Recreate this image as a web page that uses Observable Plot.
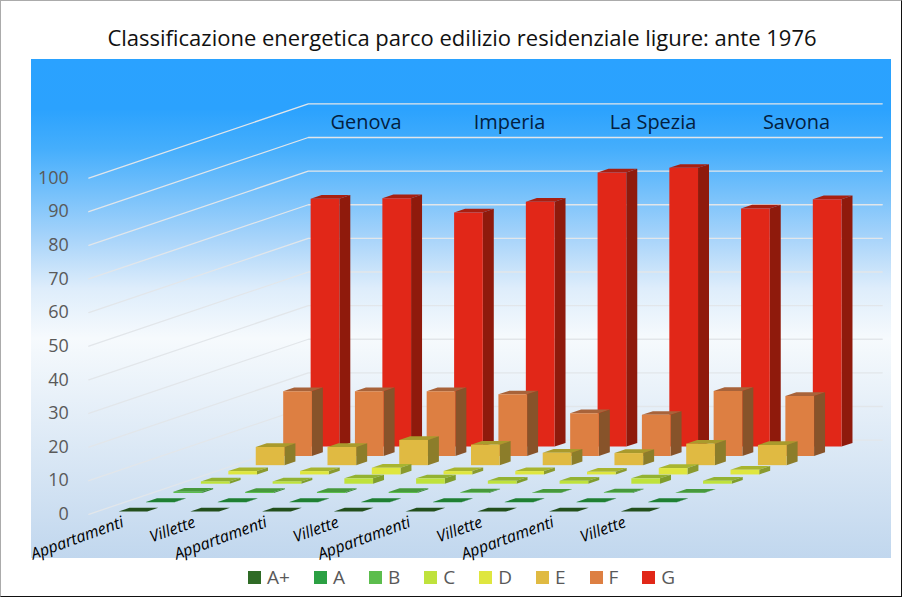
<!DOCTYPE html>
<html lang="it">
<head>
<meta charset="utf-8">
<script src="https://cdn.jsdelivr.net/npm/d3@7"></script>
<script src="https://cdn.jsdelivr.net/npm/@observablehq/plot@0.6"></script>
<style>
  html, body { margin: 0; padding: 0; background: #fff; }
  #frame { position: relative; width: 902px; height: 597px; box-sizing: border-box; overflow: hidden;
           border-top: 1px solid #ababab; border-left: 1px solid #ababab; border-right: 1px solid #111; border-bottom: 1px solid #111; background: #fff; }
  #panel { position: absolute; left: 30px; top: 58px; width: 860px; height: 499px;
           background: linear-gradient(180deg, #2aa2ff 0%, #2ba2fe 10%, #45aefc 18%, #a8d4fa 36%, #deedfb 46%, #f6fafd 56%, #c1d7ee 100%); }
  #title { position: absolute; left: 0; width: 922px; top: 21px; text-align: center; font: 22px "Open Sans", sans-serif; color: #111; white-space: nowrap; }
  #chart { position: absolute; left: -1px; top: -1px; }
  #chart svg { background: transparent; display: block; }
  #legend { position: absolute; left: 247px; top: 563px; }
  #legend .leg-swatches { display: flex; min-height: 0; margin: 0; font: 19px "Open Sans", sans-serif; color: #595959; }
  #legend .leg-swatch { margin-right: 24px; }
  #legend .leg-swatch > svg { margin-right: 6px; }
</style>
</head>
<body>
<div id="frame">
  <div id="panel"></div>
  <div id="chart"></div>
  <div id="title">Classificazione energetica parco edilizio residenziale ligure: ante 1976</div>
  <div id="legend"></div>
</div>
<script>
const provinces = ["Genova", "Imperia", "La Spezia", "Savona"];
const housing = ["Appartamenti", "Villette"];
const classes = ["A+", "A", "B", "C", "D", "E", "F", "G"];
const valuesAp = [0, 0.1, 0.4, 0.7, 1.0, 5.4, 19.2, 73.7];
const valuesAv = [0, 0.1, 0.3, 0.7, 1.0, 5.4, 19.2, 73.9];
const valuesBa = [0, 0.1, 0.3, 1.6, 2.0, 7.5, 19.2, 69.6];
const valuesBv = [0, 0.1, 0.3, 1.6, 1.0, 6.1, 18.3, 72.8];
const valuesCa = [0, 0.1, 0.2, 0.9, 1.0, 3.7, 12.7, 81.5];
const valuesCv = [0, 0.1, 0.1, 0.9, 0.8, 3.6, 12.2, 82.9];
const valuesDa = [0, 0.1, 0.2, 1.6, 1.9, 6.4, 19.3, 70.8];
const valuesDv = [0, 0.1, 0.1, 0.9, 1.4, 6.0, 17.8, 73.6];
const seriesByBar = [valuesAp, valuesAv, valuesBa, valuesBv, valuesCa, valuesCv, valuesDa, valuesDv];
const frontColors = ["#2f6b26", "#2ba043", "#5cbd4d", "#bfe23c", "#dfe63f", "#e0ba42", "#dd7f42", "#e12718"];
const sideColors  = ["#1c4017", "#1a6a2c", "#3b8a35", "#7f9d2c", "#8a9a2e", "#8c7d2a", "#87532a", "#8f1a0c"];
const topColors   = ["#234f1c", "#1f7f33", "#47993c", "#93b232", "#a8b52f", "#a99a2c", "#a8633a", "#a91f10"];
const yTicks = d3.range(0, 101, 10);

// Oblique projection, expressed in the units of the x scale (one bar slot) and y scale (one percentage point).
const pxPerSlot = 71.9, pxPerUnit = 3.37, originX = 88.5, originY = 515;
const W = 903, H = 597;
const depthX = 27.5 / pxPerSlot, depthY = 9.3 / pxPerUnit;
const gap = 0.3, barW = 0.4, barD = 0.4;
const slots = seriesByBar.length, depths = classes.length;
const project = (c, v, d) => ({x: c + d * depthX, y: v + d * depthY});

const faces = [];
for (let s = depths - 1; s >= 0; --s) {
  seriesByBar.forEach((vals, c) => {
    const v = vals[s], l = c + gap, r = l + barW, f = s + gap, b = f + barD;
    const poly = (name, color, pts) => pts.forEach(p => faces.push({id: `${c}-${s}-${name}`, color, ...project(...p)}));
    poly("top", topColors[s], [[l, v, f], [r, v, f], [r, v, b], [l, v, b]]);
    poly("side", sideColors[s], [[r, 0, f], [r, 0, b], [r, v, b], [r, v, f]]);
    poly("front", frontColors[s], [[l, 0, f], [r, 0, f], [r, v, f], [l, v, f]]);
  });
}

const grid = yTicks.flatMap(v => [
  {v, ...project(0, v, 0)},
  {v, ...project(0, v, depths)},
  {v, ...project(slots, v, depths)}
]);

const barLabels = seriesByBar.map((_, i) => ({i, label: housing[i % housing.length]}));
const groupLabels = provinces.map((name, i) => ({name, c: i * housing.length + housing.length / 2}));

const plot = Plot.plot({
  width: W, height: H, margin: 0,
  style: {background: "transparent", overflow: "visible"},
  x: {domain: [-originX / pxPerSlot, (W - originX) / pxPerSlot], axis: null},
  y: {domain: [(originY - H) / pxPerUnit, originY / pxPerUnit]},
  marks: [
    Plot.line(grid, {x: "x", y: "y", z: "v", stroke: "#e2e6ea", strokeWidth: 1.3}),
    Plot.axisY(yTicks, {anchor: "left", x: 0, tickSize: 0, tickPadding: 20, label: null, color: "#595959",
                        fontSize: 18, fontFamily: "Open Sans", tickFormat: d => d}),
    Plot.text(groupLabels, {x: d => project(d.c, 0, depths).x, y: 116.5, text: "name", dx: -14,
                            fontSize: 20, fontFamily: "Open Sans", fill: "#03203f"}),
    Plot.line(faces, {x: "x", y: "y", z: "id", fill: {value: "color", scale: null}, stroke: "none"}),
    Plot.text(barLabels, {x: d => d.i + 0.5, y: -3.6, text: "label", rotate: -20, textAnchor: "end", lineAnchor: "bottom",
                          fontSize: 16, fontStyle: "italic", fontFamily: "Open Sans", fill: "#000"})
  ]
});
document.getElementById("chart").append(plot);

document.getElementById("legend").append(Plot.legend({
  color: {type: "ordinal", domain: classes, range: frontColors},
  legend: "swatches", swatchSize: 13, className: "leg"
}));
</script>
</body>
</html>
